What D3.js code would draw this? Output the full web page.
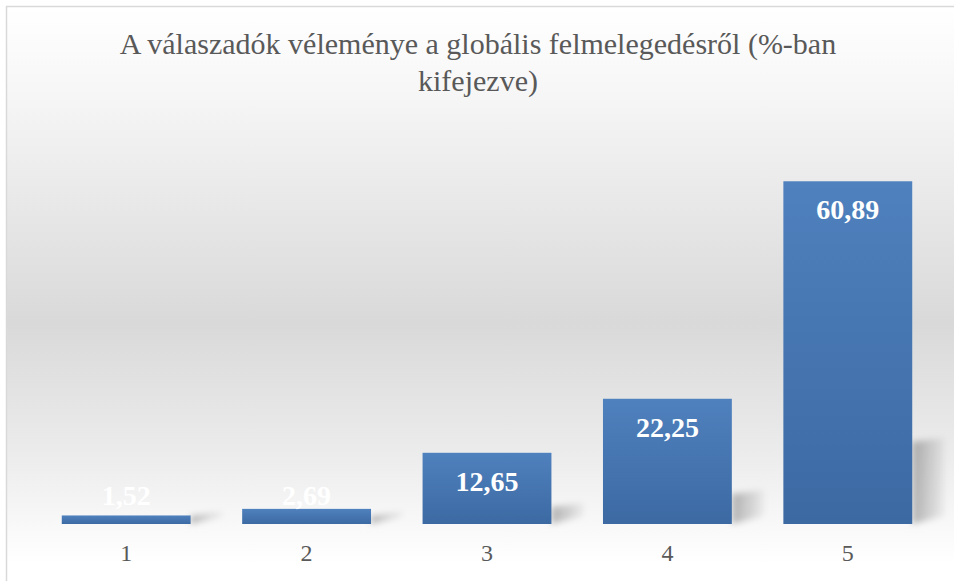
<!DOCTYPE html>
<html>
<head>
<meta charset="utf-8">
<script src="https://cdn.jsdelivr.net/npm/d3@7"></script>
<style>
  html, body { margin: 0; padding: 0; background: #fff; }
  svg { display: block; }
</style>
</head>
<body>
<svg id="chart" width="954" height="581"></svg>
<script>
// data
var categories = ['1', '2', '3', '4', '5'];
var values = [1.52, 2.69, 12.65, 22.25, 60.89];
var valueLabels = ['1,52', '2,69', '12,65', '22,25', '60,89'];
var titleLines = ['A válaszadók véleménye a globális felmelegedésről (%-ban', 'kifejezve)'];

var width = 954, height = 581;
var svg = d3.select('#chart');
var defs = svg.append('defs');

// background gradient (white -> gray -> white)
var bg = defs.append('linearGradient')
  .attr('id', 'bg')
  .attr('gradientUnits', 'userSpaceOnUse')
  .attr('x1', 0).attr('y1', 7).attr('x2', 0).attr('y2', 581);
bg.append('stop').attr('offset', '0%').attr('stop-color', '#ffffff');
bg.append('stop').attr('offset', '14%').attr('stop-color', '#f7f7f7');
bg.append('stop').attr('offset', '55%').attr('stop-color', '#d9d9d9');
bg.append('stop').attr('offset', '78%').attr('stop-color', '#ececec');
bg.append('stop').attr('offset', '97%').attr('stop-color', '#ffffff');

// bar gradient
var barGrad = defs.append('linearGradient')
  .attr('id', 'barGrad')
  .attr('x1', 0).attr('y1', 0).attr('x2', 0).attr('y2', 1);
barGrad.append('stop').attr('offset', '0%').attr('stop-color', '#4f81be');
barGrad.append('stop').attr('offset', '100%').attr('stop-color', '#3c69a2');

// shadow gradient + blur
var shGrad = defs.append('linearGradient')
  .attr('id', 'shGrad')
  .attr('x1', 0).attr('y1', 0).attr('x2', 1).attr('y2', 0);
shGrad.append('stop').attr('offset', '0%').attr('stop-color', '#000').attr('stop-opacity', 0.28);
shGrad.append('stop').attr('offset', '100%').attr('stop-color', '#000').attr('stop-opacity', 0.04);
defs.append('filter').attr('id', 'blur')
  .attr('x', '-50%').attr('y', '-50%').attr('width', '200%').attr('height', '200%')
  .append('feGaussianBlur').attr('stdDeviation', 3);

svg.append('rect')
  .attr('x', 6.5).attr('y', 6.5)
  .attr('width', width + 20).attr('height', height + 20)
  .attr('fill', 'url(#bg)')
  .attr('stroke', '#d9d9d9')
  .attr('stroke-width', 1.5);

// scales
var x = d3.scaleBand()
  .domain(categories)
  .range([36, 938])
  .paddingInner(0.4 / 1.4)
  .paddingOuter(0.2 / 1.4);

var y = d3.scaleLinear()
  .domain([0, 70])
  .range([524, 130]);

var data = categories.map(function (c, i) {
  return { cat: c, value: values[i], label: valueLabels[i] };
});

// shadows
svg.append('g')
  .selectAll('path')
  .data(data)
  .enter()
  .append('path')
  .attr('d', function (d) {
    var x1 = x(d.cat) + x.bandwidth();
    var y0 = y(0);
    var h = y0 - y(d.value);
    var sh = Math.max(h * 0.24, 8);
    return 'M' + x1 + ',' + y0 +
      'L' + x1 + ',' + (y0 - sh) +
      'L' + (x1 + 32) + ',' + (y0 - sh - 4) +
      'L' + (x1 + 32) + ',' + (y0 - 8) + 'Z';
  })
  .attr('fill', 'url(#shGrad)')
  .attr('filter', 'url(#blur)');

// bars
svg.append('g')
  .selectAll('rect')
  .data(data)
  .enter()
  .append('rect')
  .attr('x', function (d) { return x(d.cat); })
  .attr('y', function (d) { return y(d.value); })
  .attr('width', x.bandwidth())
  .attr('height', function (d) { return y(0) - y(d.value); })
  .attr('fill', 'url(#barGrad)');

// value labels
svg.append('g')
  .selectAll('text')
  .data(data)
  .enter()
  .append('text')
  .attr('x', function (d) { return x(d.cat) + x.bandwidth() / 2; })
  .attr('y', function (d) { return Math.min(y(d.value) + 38, y(0) - 19); })
  .attr('text-anchor', 'middle')
  .attr('fill', '#ffffff')
  .style('font-family', '"Liberation Serif", serif')
  .style('font-weight', 'bold')
  .style('font-size', '28px')
  .text(function (d) { return d.label; });

// x axis (labels only)
var xAxis = svg.append('g')
  .attr('transform', 'translate(0,' + y(0) + ')')
  .call(d3.axisBottom(x).tickSize(0).tickPadding(20));
xAxis.select('.domain').remove();
xAxis.selectAll('text')
  .attr('fill', '#595959')
  .style('font-family', '"Liberation Serif", serif')
  .style('font-size', '24px');

// title
svg.append('g')
  .selectAll('text')
  .data(titleLines)
  .enter()
  .append('text')
  .attr('x', 478)
  .attr('y', function (d, i) { return 54 + i * 37; })
  .attr('text-anchor', 'middle')
  .attr('fill', '#595959')
  .style('font-family', '"Liberation Serif", serif')
  .style('font-size', '30px')
  .text(function (d) { return d; });
</script>
</body>
</html>
